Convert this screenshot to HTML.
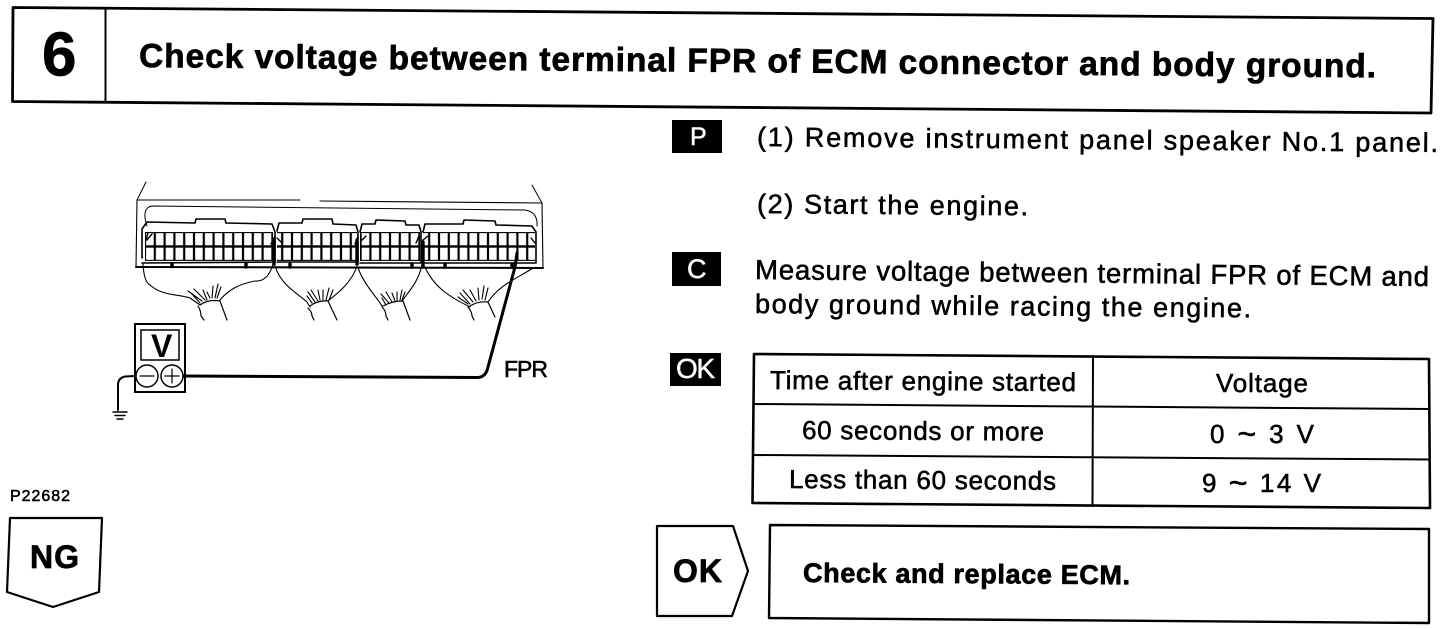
<!DOCTYPE html>
<html>
<head>
<meta charset="utf-8">
<title>Check voltage between terminal FPR</title>
<style>
html,body{margin:0;padding:0;background:#fff;width:1456px;height:630px;overflow:hidden}
svg{display:block}
text{font-family:"Liberation Sans",sans-serif;fill:#000}
.b{font-weight:bold;stroke:#000;stroke-width:.7}
.r{stroke:#000;stroke-width:.55}
.w{fill:#fff;stroke:#fff;stroke-width:.5}
.l{fill:none;stroke:#000;stroke-linecap:round;stroke-linejoin:round}
</style>
</head>
<body>
<svg width="1456" height="630" viewBox="0 0 1456 630" xmlns="http://www.w3.org/2000/svg">
<defs>
<pattern id="cells" patternUnits="userSpaceOnUse" x="145" y="232" width="9.8" height="14.6">
<rect width="9.8" height="14.6" fill="#000"/>
<rect x="1.1" y="1.1" width="7.6" height="12.2" fill="#fff"/>
</pattern>
</defs>

<!-- title box -->
<path class="l" stroke-width="2.8" d="M13 7.5 L1433 18.5 L1431 113 L12.5 101.5 Z"/>
<path class="l" stroke-width="2" d="M105.5 8 L105.5 101"/>
<text class="b" x="42" y="75.5" font-size="62">6</text>
<text class="b" x="139" y="67" font-size="33.5" textLength="1237" transform="rotate(.48 139 67)">Check voltage between terminal FPR of ECM connector and body ground.</text>

<!-- P / C / OK tags -->
<rect x="672" y="120" width="50" height="33"/>
<text class="w" x="690" y="145" font-size="25">P</text>
<rect x="672" y="252" width="49" height="34"/>
<text class="w" x="687" y="278" font-size="27">C</text>
<rect x="670" y="353" width="51" height="33"/>
<text class="w" x="676" y="378" font-size="28" textLength="39">OK</text>

<!-- instructions -->
<text class="r" x="757" y="146" font-size="27" textLength="681" transform="rotate(.5 757 146)">(1) Remove instrument panel speaker No.1 panel.</text>
<text class="r" x="757" y="213" font-size="27" textLength="271" transform="rotate(.5 757 213)">(2) Start the engine.</text>
<text class="r" x="755" y="279" font-size="27.5" textLength="674" transform="rotate(.6 755 279)">Measure voltage between terminal FPR of ECM and</text>
<text class="r" x="755" y="313" font-size="27" textLength="496" transform="rotate(.5 755 313)">body ground while racing the engine.</text>

<!-- table -->
<path class="l" stroke-width="2.6" d="M754 354 L1429 359 L1430 508 L752.5 503 Z"/>
<path class="l" stroke-width="2" d="M754 404 L1429 409 M753 455 L1429 459.5 M1093 356 L1092.5 506"/>
<text class="r" x="770" y="389" font-size="26" textLength="306" transform="rotate(.4 770 389)">Time after engine started</text>
<text class="r" x="1216" y="392" font-size="26" textLength="92">Voltage</text>
<text class="r" x="802" y="439" font-size="26" textLength="242" transform="rotate(.4 802 439)">60 seconds or more</text>
<text class="r" x="1210" y="443" font-size="26" textLength="104">0 <tspan font-size="32" dy="2">~</tspan><tspan dy="-2"> 3 V</tspan></text>
<text class="r" x="789" y="488" font-size="26" textLength="267" transform="rotate(.4 789 488)">Less than 60 seconds</text>
<text class="r" x="1202" y="492" font-size="26" textLength="119">9 <tspan font-size="32" dy="2">~</tspan><tspan dy="-2"> 14 V</tspan></text>

<!-- OK pentagon and result -->
<path class="l" stroke-width="2.2" d="M657 526 L733 526 L748 571 L732 616 L657 616 Z"/>
<text class="b" x="673" y="582" font-size="32" textLength="49">OK</text>
<path class="l" stroke-width="2.4" d="M770 525 L1429 529 L1429 623 L769 618 Z"/>
<text class="b" x="803" y="582" font-size="27" textLength="327" transform="rotate(.4 803 582)">Check and replace ECM.</text>

<!-- NG -->
<text class="r" x="10" y="501" font-size="16" textLength="60">P22682</text>
<path class="l" stroke-width="2.2" d="M10 518 L102 518 L99 592 L53 607 L7 592 Z"/>
<text class="b" x="30" y="568" font-size="32" textLength="49">NG</text>

<!-- ECM housing -->
<path class="l" stroke-width="1" d="M137 200 L146 182 M542 203 L532 185"/>
<path class="l" stroke-width="1.1" d="M137 200 L300 200 M320 201 L542 203 L543 268 M137 200 L136 267"/>
<path class="l" stroke-width="2" d="M136 267 L543 268"/>
<path class="l" stroke-width="1" d="M147 226 Q141 208 152 206 L525 210 Q538 212 537 226"/>

<!-- connector segments -->
<rect x="145" y="232" width="128" height="29" fill="url(#cells)"/>
<rect x="277" y="232" width="80" height="29" fill="url(#cells)"/>
<rect x="360" y="232" width="60" height="29" fill="url(#cells)"/>
<rect x="423" y="232" width="112" height="29" fill="url(#cells)"/>
<path class="l" stroke-width="1.6" d="M142 258 L142 229 L147 222 L195 223 L196 219 L225 219 L226 223 L272 224 L275 232 L275 262 L142 263
M277 231 L279 223 L302 223 L303 219 L332 219 L333 224 L356 225 L358 232 L358 262 L277 262
M360 232 L362 224 L375 224 L376 220 L405 221 L406 225 L419 225 L421 232 L421 263 L360 263
M423 232 L425 224 L463 224 L464 220 L495 221 L496 225 L532 226 L536 232 L536 263 L423 263"/>
<path class="l" stroke-width="1.4" d="M148 233 L146 240 M152 234 L147 240 M275 236 L271 244 M277 238 L281 242 M358 236 L355 244 M362 240 L366 236 M419 236 L416 243 M423 240 L428 236 M531 238 L535 243"/>
<path class="l" stroke-width="3.4" d="M274 240 L274 264 M357 240 L357 264 M423 242 L423 266 M172 264 L172 266 M246 264 L246 267 M290 264 L290 267 M412 264 L412 267 M445 264 L445 267 M512 264 L512 267"/>

<!-- wire bundles -->
<path class="l" stroke-width="1.1" d="M143 264 Q144 282 150 285 C162 296 178 294 190 298 L200 305
M273 264 Q268 282 255 281 C240 284 229 289 220 300
M275 266 C281 285 296 292 307 302 L310 307
M357 266 C352 282 338 293 328 301
M358 268 C365 286 376 296 382 306
M422 265 C418 282 410 290 402 301
M425 267 C434 288 452 298 470 307
M533 268 C518 278 500 284 488 302"/>
<path class="l" stroke-width="1.2" d="M198 306 Q201 311 201 316 L204 320 M200 305 Q208 299 220 301 L227 320
M308 308 Q312 312 312 316 L314 320 M310 306 Q318 300 328 301 L337 320
M382 307 Q386 311 386 316 L388 320 M383 306 Q392 301 403 301 L410 320
M468 307 Q472 312 472 316 L474 320 M470 306 Q478 301 488 302 L495 317"/>
<path class="l" stroke-width="1.1" d="M192 294 L200 303 M188 291 L202 301 M194 289 L205 300 M203 290 L207 300 M207 292 L210 298 M213 286 L212 298 M218 284 L215 298 M221 287 L217 298
M307 296 L312 303 M308 292 L315 302 M311 290 L318 301 M318 290 L320 300 M323 290 L323 300 M329 288 L326 300 M333 290 L329 300
M382 298 L386 305 M381 294 L389 303 M386 292 L392 302 M392 293 L395 301 M397 292 L397 301 M402 290 L400 300 M405 292 L402 300
M460 293 L470 304 M458 297 L468 304 M463 290 L473 302 M470 290 L476 301 M478 288 L479 300 M484 286 L482 299 M488 288 L485 300"/>

<!-- meter -->
<rect x="135" y="324" width="50" height="68" fill="#fff" stroke="#000" stroke-width="2"/>
<rect x="141" y="330" width="38" height="30" fill="none" stroke="#000" stroke-width="1.5"/>
<text x="151" y="357" font-size="32" font-weight="bold">V</text>
<circle cx="147" cy="376" r="11" fill="none" stroke="#000" stroke-width="1.5"/>
<circle cx="172" cy="376" r="11" fill="none" stroke="#000" stroke-width="1.5"/>
<path class="l" stroke-width="1.2" d="M140 376 H154 M165 376 H179 M172 369 V383"/>

<!-- test leads and ground -->
<path class="l" stroke-width="3" d="M184 376 L478 377.5 Q486 377 488 367 L515 267 L517 253"/>
<path class="l" stroke-width="2" d="M135 376 L125 376.5 Q118 378 118 385 L118 410"/>
<path class="l" stroke-width="1.5" d="M113 412 H127 M115 415.5 H125 M117 419 H123"/>
<text class="r" x="504" y="377" font-size="23" textLength="44">FPR</text>
</svg>
</body>
</html>
